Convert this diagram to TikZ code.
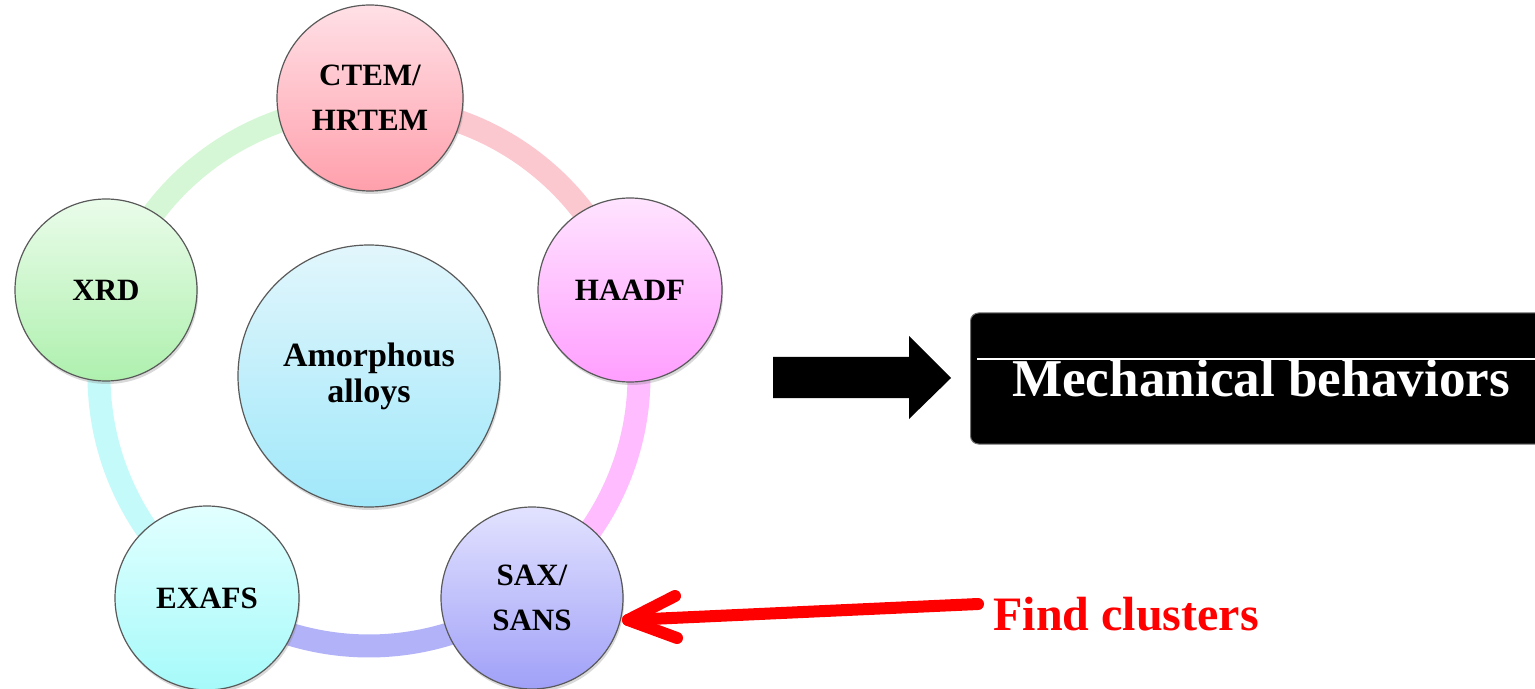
\documentclass[tikz,border=0pt]{standalone}
\usepackage{fontspec}
\setmainfont{Liberation Serif}
\usetikzlibrary{shadows,backgrounds}
\definecolor{rgreen}{RGB}{214,247,214}
\definecolor{rpink}{RGB}{252,200,208}
\definecolor{rmag}{RGB}{255,188,255}
\definecolor{rlav}{RGB}{178,178,248}
\definecolor{rcyan}{RGB}{196,250,250}
\definecolor{ctemT}{RGB}{255,224,230}
\definecolor{ctemB}{RGB}{255,160,172}
\definecolor{haadfT}{RGB}{255,228,255}
\definecolor{haadfB}{RGB}{255,158,255}
\definecolor{saxT}{RGB}{226,226,255}
\definecolor{saxB}{RGB}{160,160,248}
\definecolor{exafsT}{RGB}{226,255,255}
\definecolor{exafsB}{RGB}{166,250,250}
\definecolor{xrdT}{RGB}{234,252,234}
\definecolor{xrdB}{RGB}{174,240,174}
\definecolor{amT}{RGB}{226,246,252}
\definecolor{amB}{RGB}{160,232,250}
\begin{document}
\begin{tikzpicture}[x=0.5pt,y=-0.5pt,
  tech/.style={circle, draw=black!65, line width=0.6pt, inner sep=0pt, align=center,
    font=\fontsize{15.5}{22.5}\selectfont\bfseries,
    drop shadow={opacity=0.3, shadow xshift=0.6pt, shadow yshift=-1.5pt}},
  ringseg/.style={line width=11.5pt},
  redarrow/.style={draw=red, line width=6pt, line cap=round, line join=round},
]
\useasboundingbox (0,0) rectangle (1535,689);

% technique circles
\node[tech, minimum size=93pt, top color=ctemT, bottom color=ctemB] (ctem) at (370,98) {CTEM/\\HRTEM};
\node[tech, minimum size=92pt, top color=haadfT, bottom color=haadfB] (haadf) at (630,290) {HAADF};
\node[tech, minimum size=91pt, top color=saxT, bottom color=saxB] (sax) at (532,598) {SAX/\\SANS};
\node[tech, minimum size=92pt, top color=exafsT, bottom color=exafsB] (exafs) at (207,598) {EXAFS};
\node[tech, minimum size=91pt, top color=xrdT, bottom color=xrdB] (xrd) at (106,290) {XRD};
\node[tech, minimum size=131pt, top color=amT, bottom color=amB,
  font=\fontsize{17}{18}\selectfont\bfseries] (amorph) at (369,376) {Amorphous\\alloys};

% ring behind the circles
\begin{scope}[on background layer]
\coordinate (ringc) at (369,376);
\draw[ringseg, rpink] (ringc) ++(-90:270) arc[start angle=-90, end angle=-18.2, radius=270];
\draw[ringseg, rmag] (ringc) ++(-18.2:270) arc[start angle=-18.2, end angle=53.7, radius=270];
\draw[ringseg, rlav] (ringc) ++(53.7:270) arc[start angle=53.7, end angle=126.1, radius=270];
\draw[ringseg, rcyan] (ringc) ++(126.1:270) arc[start angle=126.1, end angle=198.1, radius=270];
\draw[ringseg, rgreen] (ringc) ++(198.1:270) arc[start angle=198.1, end angle=270, radius=270];
\end{scope}

% black block arrow
\coordinate (ba1) at (773,357);
\coordinate (ba2) at (909,357);
\coordinate (ba3) at (909,336);
\coordinate (batip) at (951,378);
\coordinate (ba4) at (909,419);
\coordinate (ba5) at (909,398);
\coordinate (ba6) at (773,398);
\fill[black] (ba1) -- (ba2) -- (ba3) -- (batip) -- (ba4) -- (ba5) -- (ba6) -- cycle;

% result box
\node[fill=black, draw=black!55, line width=0.5pt, rounded corners=4pt,
  minimum width=290.5pt, minimum height=65.5pt, inner sep=0pt, text=white,
  font=\fontsize{26.6}{30}\selectfont\bfseries] (mech) at (1261,378.5) {Mechanical behaviors};
\coordinate (wl1) at (977,359);
\coordinate (wl2) at (1540,359);
\draw[white, line width=0.7pt] (wl1) -- (wl2);

% red arrow and label
\node[anchor=base west, text=red, inner sep=0pt,
  font=\fontsize{24}{28}\selectfont\bfseries] (find) at (993,630) {Find clusters};
\coordinate (tail) at (978,604);
\coordinate (tip) at (628,620);
\coordinate (barbA) at (675,596);
\coordinate (barbB) at (677,638);
\draw[redarrow] (tail) -- (tip);
\draw[redarrow] (barbA) -- (tip) -- (barbB);
\end{tikzpicture}
\end{document}
